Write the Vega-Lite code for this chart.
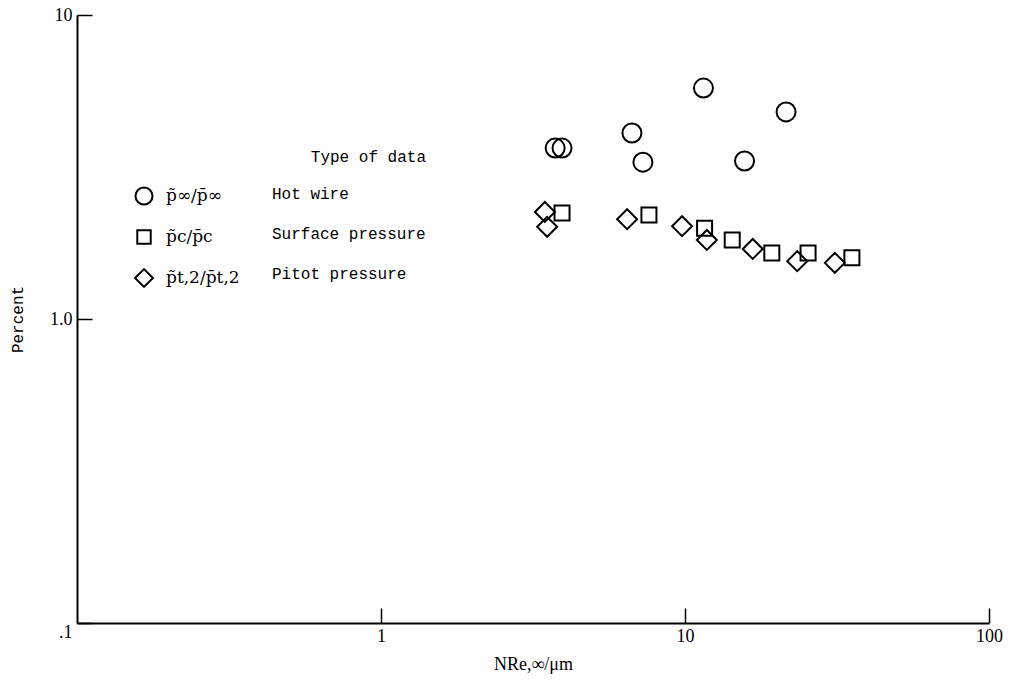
{
  "$schema": "https://vega.github.io/schema/vega-lite/v6.json",
  "width": 912,
  "height": 608,
  "autosize": {"type": "none"},
  "padding": {"left": 77, "top": 15, "right": 27, "bottom": 69},
  "background": "white",
  "config": {
    "view": {"stroke": null},
    "axis": {
      "domainColor": "black",
      "domainWidth": 2,
      "tickColor": "black",
      "tickWidth": 1.5,
      "labelColor": "black",
      "labelFont": "Liberation Serif",
      "labelFontSize": 18,
      "titleColor": "black",
      "titleFontWeight": "normal",
      "grid": false
    }
  },
  "data": {
    "values": [
      {"re": 3.74, "pct": 3.65, "formula": "p̃∞/p̄∞", "desc": "Hot wire"},
      {"re": 3.94, "pct": 3.65, "formula": "p̃∞/p̄∞", "desc": "Hot wire"},
      {"re": 6.69, "pct": 4.09, "formula": "p̃∞/p̄∞", "desc": "Hot wire"},
      {"re": 7.27, "pct": 3.28, "formula": "p̃∞/p̄∞", "desc": "Hot wire"},
      {"re": 11.5, "pct": 5.75, "formula": "p̃∞/p̄∞", "desc": "Hot wire"},
      {"re": 15.7, "pct": 3.31, "formula": "p̃∞/p̄∞", "desc": "Hot wire"},
      {"re": 21.5, "pct": 4.8, "formula": "p̃∞/p̄∞", "desc": "Hot wire"},
      {"re": 3.94, "pct": 2.23, "formula": "p̃c/p̄c", "desc": "Surface pressure"},
      {"re": 7.61, "pct": 2.2, "formula": "p̃c/p̄c", "desc": "Surface pressure"},
      {"re": 11.6, "pct": 1.99, "formula": "p̃c/p̄c", "desc": "Surface pressure"},
      {"re": 14.3, "pct": 1.82, "formula": "p̃c/p̄c", "desc": "Surface pressure"},
      {"re": 19.3, "pct": 1.65, "formula": "p̃c/p̄c", "desc": "Surface pressure"},
      {"re": 25.4, "pct": 1.65, "formula": "p̃c/p̄c", "desc": "Surface pressure"},
      {"re": 35.4, "pct": 1.59, "formula": "p̃c/p̄c", "desc": "Surface pressure"},
      {"re": 3.46, "pct": 2.25, "formula": "p̃t,2/p̄t,2", "desc": "Pitot pressure"},
      {"re": 3.52, "pct": 2.01, "formula": "p̃t,2/p̄t,2", "desc": "Pitot pressure"},
      {"re": 6.45, "pct": 2.13, "formula": "p̃t,2/p̄t,2", "desc": "Pitot pressure"},
      {"re": 9.78, "pct": 2.02, "formula": "p̃t,2/p̄t,2", "desc": "Pitot pressure"},
      {"re": 11.8, "pct": 1.82, "formula": "p̃t,2/p̄t,2", "desc": "Pitot pressure"},
      {"re": 16.7, "pct": 1.7, "formula": "p̃t,2/p̄t,2", "desc": "Pitot pressure"},
      {"re": 23.4, "pct": 1.55, "formula": "p̃t,2/p̄t,2", "desc": "Pitot pressure"},
      {"re": 31.1, "pct": 1.53, "formula": "p̃t,2/p̄t,2", "desc": "Pitot pressure"}
    ]
  },
  "mark": {"type": "point", "filled": false, "strokeWidth": 2, "opacity": 1, "size": 361},
  "encoding": {
    "x": {
      "field": "re",
      "type": "quantitative",
      "scale": {"type": "log", "domain": [0.1, 100]},
      "axis": {
        "values": [1, 10, 100],
        "title": "NRe,∞/μm",
        "titleFont": "Liberation Serif",
        "titleFontSize": 18,
        "titlePadding": 10,
        "tickSize": -15,
        "labelPadding": 19,
        "labelFlush": false
      }
    },
    "y": {
      "field": "pct",
      "type": "quantitative",
      "scale": {"type": "log", "domain": [0.1, 10]},
      "axis": {
        "values": [0.1, 1, 10],
        "labelExpr": "datum.value == 10 ? '10' : (datum.value == 1 ? '1.0' : '.1')",
        "labelBaseline": {"condition": {"test": "datum.value == 0.1", "value": "top"}, "value": "middle"},
        "title": "Percent",
        "titleFont": "Liberation Mono",
        "titleFontSize": 16,
        "titlePadding": 24,
        "tickSize": -15,
        "labelPadding": 20
      }
    },
    "shape": {
      "field": "formula",
      "type": "nominal",
      "scale": {
        "domain": ["p̃∞/p̄∞", "p̃c/p̄c", "p̃t,2/p̄t,2"],
        "range": ["circle", "M-0.79,-0.79L0.79,-0.79L0.79,0.79L-0.79,0.79Z", "M-1.05,0L0,-1.05L1.05,0L0,1.05Z"]
      },
      "legend": {
        "title": null,
        "orient": "none",
        "legendX": 57,
        "legendY": 171,
        "padding": 0,
        "symbolSize": 290,
        "symbolStrokeWidth": 2,
        "symbolStrokeColor": "black",
        "labelFont": "DejaVu Serif",
        "labelFontSize": 17,
        "labelColor": "black",
        "labelOffset": 12,
        "rowPadding": 17
      }
    },
    "color": {
      "field": "desc",
      "type": "nominal",
      "scale": {"domain": ["Hot wire", "Surface pressure", "Pitot pressure"], "range": ["black", "black", "black"]},
      "legend": {
        "title": "Type of data",
        "orient": "none",
        "legendX": 179,
        "legendY": 134,
        "padding": 0,
        "symbolSize": 1,
        "symbolOpacity": 0,
        "symbolStrokeWidth": 0,
        "labelFont": "Liberation Mono",
        "labelFontSize": 16,
        "labelColor": "black",
        "labelOffset": 0,
        "rowPadding": 24,
        "titleFont": "Liberation Mono",
        "titleFontSize": 16,
        "titleFontWeight": "normal",
        "titleColor": "black",
        "titleAnchor": "end",
        "titlePadding": 21
      }
    }
  }
}
